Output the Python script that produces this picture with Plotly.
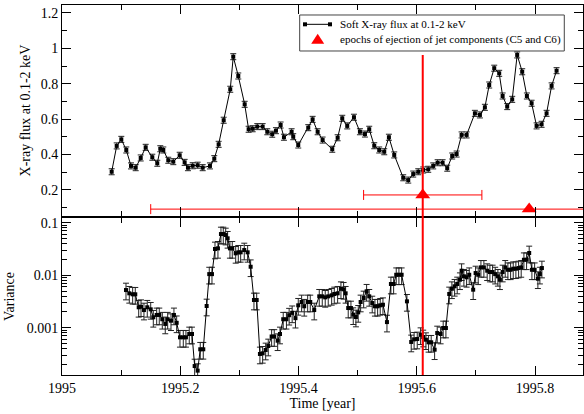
import plotly.graph_objects as go

# ---------------- data ----------------
flux_time = [
    1995.0840, 1995.0925, 1995.1003, 1995.1087, 1995.1167, 1995.1246, 1995.1331, 1995.1415, 1995.1527, 1995.1611,
    1995.1662, 1995.1713, 1995.1797, 1995.1882, 1995.1990, 1995.2074, 1995.2130, 1995.2210, 1995.2294, 1995.2379,
    1995.2502, 1995.2575, 1995.2649, 1995.2734, 1995.2845, 1995.2896, 1995.2981, 1995.3089, 1995.3156, 1995.3224,
    1995.3302, 1995.3393, 1995.3471, 1995.3555, 1995.3618, 1995.3697, 1995.3753, 1995.3883, 1995.3910, 1995.3995,
    1995.4164, 1995.4238, 1995.4323, 1995.4407, 1995.4570, 1995.4661, 1995.4739, 1995.4823, 1995.4937, 1995.5038,
    1995.5123, 1995.5195, 1995.5280, 1995.5364, 1995.5449, 1995.5528, 1995.5618, 1995.5770, 1995.5855, 1995.5939,
    1995.6024, 1995.6108, 1995.6193, 1995.6277, 1995.6352, 1995.6436, 1995.6514, 1995.6598, 1995.6673, 1995.6757,
    1995.6842, 1995.6982, 1995.7067, 1995.7151, 1995.7224, 1995.7309, 1995.7393, 1995.7451, 1995.7528, 1995.7613,
    1995.7697, 1995.7782, 1995.7861, 1995.7941, 1995.8025, 1995.8110, 1995.8194, 1995.8279, 1995.8363,
]
flux = [
    0.303, 0.449, 0.486, 0.426, 0.336, 0.326, 0.381, 0.441, 0.385, 0.351,
    0.433, 0.426, 0.368, 0.360, 0.396, 0.356, 0.326, 0.337, 0.340, 0.326,
    0.336, 0.377, 0.458, 0.594, 0.769, 0.953, 0.844, 0.684, 0.543, 0.546,
    0.558, 0.558, 0.529, 0.515, 0.535, 0.567, 0.498, 0.529, 0.501, 0.454,
    0.552, 0.599, 0.529, 0.482, 0.430, 0.495, 0.605, 0.562, 0.611, 0.529,
    0.516, 0.543, 0.450, 0.426, 0.416, 0.498, 0.398, 0.269, 0.256, 0.290,
    0.303, 0.313, 0.317, 0.336, 0.354, 0.354, 0.323, 0.392, 0.403, 0.511,
    0.511, 0.633, 0.624, 0.667, 0.793, 0.888, 0.859, 0.731, 0.671, 0.712,
    0.963, 0.868, 0.731, 0.690, 0.562, 0.571, 0.633, 0.788, 0.874,
]

var_time = [
    1995.1082, 1995.1138, 1995.1195, 1995.1239, 1995.1297, 1995.1336, 1995.1386, 1995.1442, 1995.1500, 1995.1544,
    1995.1601, 1995.1645, 1995.1696, 1995.1746, 1995.1787, 1995.1843, 1995.1893, 1995.1939, 1995.1995, 1995.2051,
    1995.2096, 1995.2152, 1995.2198, 1995.2243, 1995.2294, 1995.2338, 1995.2389, 1995.2446, 1995.2490, 1995.2536,
    1995.2587, 1995.2637, 1995.2688, 1995.2727, 1995.2768, 1995.2801, 1995.2840, 1995.2879, 1995.2937, 1995.2981,
    1995.3021, 1995.3082, 1995.3139, 1995.3190, 1995.3246, 1995.3292, 1995.3347, 1995.3393, 1995.3444, 1995.3488,
    1995.3545, 1995.3589, 1995.3647, 1995.3686, 1995.3741, 1995.3795, 1995.3841, 1995.3892, 1995.3948, 1995.3995,
    1995.4052, 1995.4096, 1995.4154, 1995.4198, 1995.4265, 1995.4350, 1995.4401, 1995.4451, 1995.4502, 1995.4560,
    1995.4604, 1995.4661, 1995.4717, 1995.4762, 1995.4796, 1995.4840, 1995.4886, 1995.4925, 1995.4970, 1995.5009,
    1995.5050, 1995.5101, 1995.5151, 1995.5195, 1995.5246, 1995.5292, 1995.5337, 1995.5381, 1995.5427, 1995.5495,
    1995.5562, 1995.5608, 1995.5652, 1995.5697, 1995.5743, 1995.5833, 1995.5905, 1995.5954, 1995.6007, 1995.6064,
    1995.6108, 1995.6154, 1995.6199, 1995.6243, 1995.6301, 1995.6345, 1995.6402, 1995.6446, 1995.6492, 1995.6548,
    1995.6593, 1995.6639, 1995.6683, 1995.6729, 1995.6757, 1995.6796, 1995.6842, 1995.6886, 1995.6953, 1995.6994,
    1995.7038, 1995.7084, 1995.7134, 1995.7190, 1995.7236, 1995.7281, 1995.7325, 1995.7371, 1995.7405, 1995.7451,
    1995.7495, 1995.7540, 1995.7586, 1995.7630, 1995.7675, 1995.7721, 1995.7765, 1995.7811, 1995.7856, 1995.7900,
    1995.7946, 1995.7992, 1995.8047, 1995.8081, 1995.8115,
]
variance = [
    0.00522, 0.00452, 0.00433, 0.00433, 0.00245, 0.00251, 0.00217, 0.00245, 0.00224, 0.00158,
    0.00175, 0.00175, 0.00145, 0.00118, 0.00145, 0.00136, 0.00175, 0.00124, 0.000656, 0.000656,
    0.000656, 0.000759, 0.000759, 0.000186, 0.000152, 0.000388, 0.000388, 0.00259, 0.0105, 0.0105,
    0.0316, 0.0325, 0.0609, 0.0609, 0.0583, 0.0505, 0.0325, 0.0325, 0.0261, 0.0273,
    0.0273, 0.0302, 0.0273, 0.0145, 0.00337, 0.00337, 0.000316, 0.000325, 0.000376, 0.000448,
    0.000680, 0.000680, 0.000565, 0.000759, 0.00145, 0.00145, 0.00173, 0.00192, 0.00152, 0.00267,
    0.00309, 0.00256, 0.00309, 0.00309, 0.00217, 0.00396, 0.00396, 0.00379, 0.00396, 0.00414,
    0.00439, 0.00452, 0.00553, 0.00539, 0.00452, 0.00237, 0.00237, 0.00177, 0.00160, 0.00196,
    0.00309, 0.00368, 0.00494, 0.00396, 0.00295, 0.00256, 0.00256, 0.00267, 0.00274, 0.00128,
    0.00680, 0.00680, 0.0102, 0.0102, 0.0102, 0.00318, 0.000535, 0.000601, 0.000609, 0.000736,
    0.000665, 0.000591, 0.000527, 0.000527, 0.000381, 0.000792, 0.000759, 0.000987, 0.000987, 0.00439,
    0.00553, 0.00615, 0.00680, 0.00821, 0.0122, 0.00953, 0.00912, 0.0102, 0.00530, 0.0110,
    0.0102, 0.0141, 0.0141, 0.0122, 0.0115, 0.0115, 0.0105, 0.00953, 0.00821, 0.0115,
    0.0141, 0.0127, 0.0127, 0.0133, 0.0133, 0.0137, 0.0141, 0.0197, 0.0197, 0.0265,
    0.0127, 0.0127, 0.00858, 0.0105, 0.0137,
]

jet_epoch = [1995.61, 1995.79]
jet_level = [0.172, 0.092]
jet_err_minus = [0.10, 0.64]
jet_err_plus = [0.10, 0.64]

x_tickvals = [1995.0, 1995.2, 1995.4, 1995.6, 1995.8]
x_ticktext = ["1995", "1995.2", "1995.4", "1995.6", "1995.8"]
var_tickvals = [0.001, 0.01, 0.1]
var_ticktext = ["0.001", "0.01", "0.1"]

flux_label = "Soft X-ray flux at 0.1-2 keV"
jet_label = "epochs of ejection of jet components (C5 and C6)"

FONT = "'Liberation Serif', 'Times New Roman', Times, serif"
RED = "#ff0000"

fig = go.Figure()

fig.add_trace(go.Scatter(
    x=flux_time, y=flux, xaxis="x", yaxis="y",
    mode="lines+markers", name=flux_label,
    line=dict(color="black", width=1),
    marker=dict(symbol="square", size=4, color="black"),
    error_y=dict(type="constant", value=0.017, color="#222", thickness=1, width=3),
))
fig.add_trace(go.Scatter(
    x=jet_epoch, y=jet_level, xaxis="x", yaxis="y",
    mode="markers", name=jet_label,
    marker=dict(symbol="triangle-up", size=13, color=RED),
    error_x=dict(type="data", array=jet_err_plus, arrayminus=jet_err_minus,
                 color=RED, thickness=1, width=5),
))
fig.add_trace(go.Scatter(
    x=var_time, y=variance, xaxis="x2", yaxis="y2",
    mode="lines+markers", name="Variance",
    line=dict(color="black", width=1),
    marker=dict(symbol="square", size=4, color="black"),
    error_y=dict(type="percent", value=35, color="#222", thickness=1, width=3),
))

# vertical line marking the C5 ejection epoch across both panels
fig.add_shape(type="line", xref="x", yref="paper",
              x0=jet_epoch[0], x1=jet_epoch[0], y0=0, y1=0.865,
              line=dict(color=RED, width=2))

# ---- legend box (drawn in paper coordinates, compact like the original) ----
LX0, LX1, LY0, LY1 = 0.4562, 0.9641, 0.8757, 0.973
row1, row2 = 0.9478, 0.9073
sym_x0, sym_x1, sym_xc, text_x = 0.4664, 0.5144, 0.4908, 0.5303
fig.add_shape(type="rect", xref="paper", yref="paper", x0=LX0, x1=LX1, y0=LY0, y1=LY1,
              fillcolor="white", line=dict(color="#444", width=1))
fig.add_shape(type="line", xref="paper", yref="paper", x0=sym_x0, x1=sym_x1, y0=row1, y1=row1,
              line=dict(color="black", width=1))
for sx in (sym_x0, sym_x1):
    fig.add_shape(type="rect", xref="paper", yref="paper",
                  xsizemode="pixel", ysizemode="pixel", xanchor=sx, yanchor=row1,
                  x0=-2, x1=2, y0=-2, y1=2, fillcolor="black", line=dict(width=0))
fig.add_shape(type="path", xref="paper", yref="paper",
              xsizemode="pixel", ysizemode="pixel", xanchor=sym_xc, yanchor=row2,
              path="M -6.5,-4.5 L 6.5,-4.5 L 0,5.5 Z", fillcolor=RED, line=dict(width=0))
for txt, yy in ((flux_label, row1), (jet_label, row2)):
    fig.add_annotation(text=txt, xref="paper", yref="paper", x=text_x, y=yy,
                       xanchor="left", yanchor="middle", showarrow=False,
                       font=dict(family=FONT, size=11.1, color="black"))

axis_common = dict(
    showline=True, linecolor="black", linewidth=1, mirror="ticks",
    ticks="inside", ticklen=9, tickwidth=1, tickcolor="black",
    showgrid=False, zeroline=False, automargin=False,
    tickfont=dict(family=FONT, size=14, color="black"),
)
x_range = [1995.0, 1995.881]

fig.update_layout(
    width=584, height=414,
    margin=dict(l=62, r=1, t=5, b=39),
    paper_bgcolor="white", plot_bgcolor="white",
    font=dict(family=FONT, size=14, color="black"),
    showlegend=False,
    xaxis=dict(domain=[0, 1], anchor="y", range=x_range,
               tickvals=x_tickvals, showticklabels=False,
               minor=dict(ticks="inside", ticklen=5, dtick=0.1, tick0=1995.0, tickcolor="black"),
               **axis_common),
    yaxis=dict(domain=[0.4297, 1], anchor="x", range=[0.053, 1.245],
               tick0=0, dtick=0.2,
               minor=dict(ticks="inside", ticklen=5, dtick=0.1, tick0=0, tickcolor="black"),
               title=dict(text="X-ray flux at 0.1-2 keV", font=dict(family=FONT, size=14), standoff=6),
               **axis_common),
    xaxis2=dict(domain=[0, 1], anchor="y2", range=x_range,
                tickvals=x_tickvals, ticktext=x_ticktext,
                minor=dict(ticks="inside", ticklen=5, dtick=0.1, tick0=1995.0, tickcolor="black"),
                title=dict(text="Time [year]", font=dict(family=FONT, size=14), standoff=2),
                **axis_common),
    yaxis2=dict(domain=[0, 0.4243], anchor="x2", type="log", range=[-3.901, -0.910],
                tickvals=var_tickvals, ticktext=var_ticktext,
                minor=dict(ticks="inside", ticklen=5, dtick="D1", tickcolor="black"),
                title=dict(text="Variance", font=dict(family=FONT, size=14), standoff=8),
                **axis_common),
)

fig.write_html("out.html", config={"displayModeBar": False},
               post_script="document.body.style.margin='0';document.body.style.padding='0';")
